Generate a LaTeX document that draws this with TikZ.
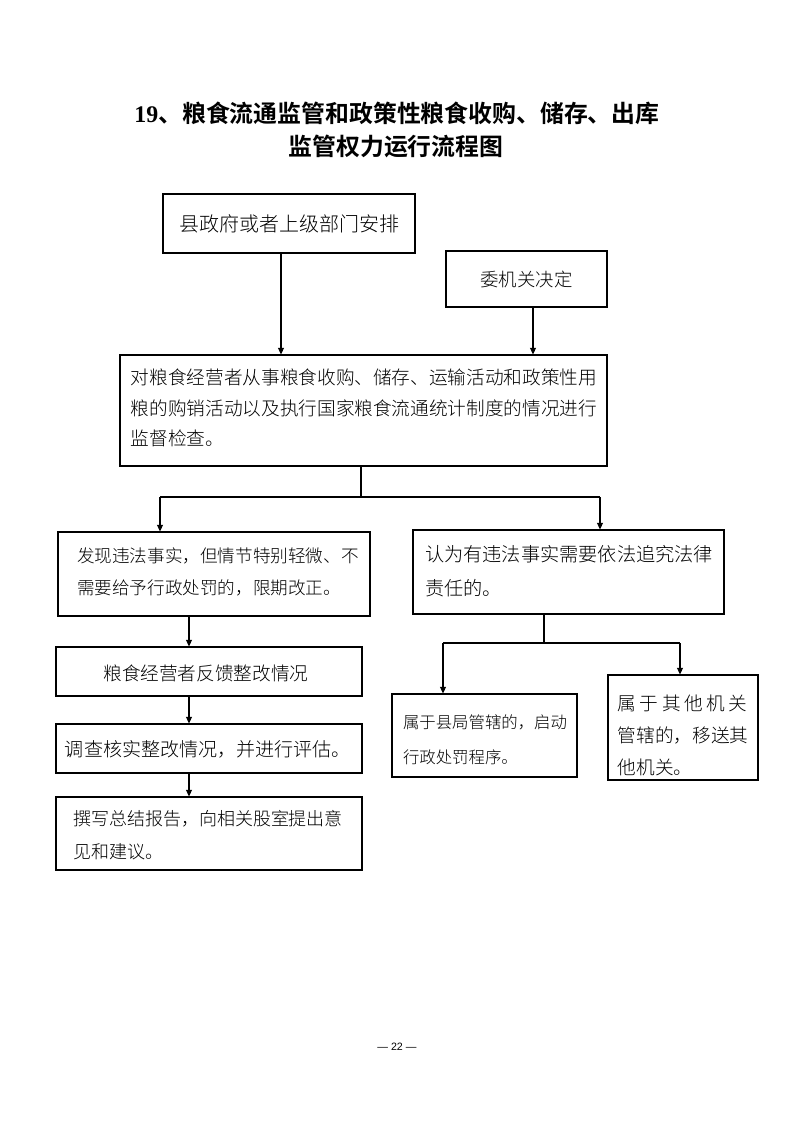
\documentclass[tikz,border=0pt]{standalone}
\usepackage{fontspec}
\setmainfont{Liberation Serif}
\newfontfamily\cjk{Noto Sans CJK SC}[UprightFont={* Light}, BoldFont={* Bold}]
\newfontfamily\numfont{Liberation Sans}
\usetikzlibrary{fit,arrows.meta}
\newcommand\fsz[2]{\fontsize{#1}{#2}\selectfont}
\tikzset{
  box/.style={draw, line width=0.8pt, inner sep=0pt},
  txt/.style={align=left, inner sep=0pt},
  ln/.style={line width=0.8pt},
  arr/.style={line width=0.8pt, -{Triangle[length=5pt,width=4.5pt]}},
}
\begin{document}
\begin{tikzpicture}[x=0.75pt,y=-0.75pt]
\useasboundingbox (0,0) rectangle (793,1122);
% title
\node[txt, font={\cjk\bfseries\fsz{17.9}{22}}] (t1) at (397,113) {{\rmfamily\bfseries 19}、粮食流通监管和政策性粮食收购、储存、出库};
\node[txt, font={\cjk\bfseries\fsz{17.9}{22}}] (t2) at (396,146) {监管权力运行流程图};
% boxes
\node[box, fit={(163,194) (415,253)}] (b1) {};
\node[txt, font={\cjk\fsz{15}{20}}] (b1t) at (b1) {县政府或者上级部门安排};
\node[box, fit={(446,251) (607,307)}] (b2) {};
\node[txt, font={\cjk\fsz{13.8}{20}}] (b2t) at (b2) {委机关决定};
\node[box, fit={(120,355) (607,466)}] (main) {};
\node[txt, font={\cjk\fsz{14}{23}}] (maint) at (364,408) {对粮食经营者从事粮食收购、储存、运输活动和政策性用\\粮的购销活动以及执行国家粮食流通统计制度的情况进行\\监督检查。};
\node[box, fit={(58,532) (370,616)}] (left1) {};
\node[txt, font={\cjk\fsz{13.2}{24.5}}] (left1t) at (218,572) {发现违法事实，但情节特别轻微、不\\需要给予行政处罚的，限期改正。};
\node[box, fit={(413,530) (724,614)}] (right1) {};
\node[txt, font={\cjk\fsz{14.4}{25}}] (right1t) at (569,571) {认为有违法事实需要依法追究法律\\责任的。};
\node[box, fit={(56,647) (362,696)}] (l2) {};
\node[txt, font={\cjk\fsz{14}{20}}] (l2t) at (206,673) {粮食经营者反馈整改情况};
\node[box, fit={(56,724) (362,773)}] (l3) {};
\node[txt, font={\cjk\fsz{14.3}{20}}] (l3t) at (208,749) {调查核实整改情况，并进行评估。};
\node[box, fit={(56,797) (362,870)}] (l4) {};
\node[txt, font={\cjk\fsz{13.5}{25}}] (l4t) at (208,835) {撰写总结报告，向相关股室提出意\\见和建议。};
\node[box, fit={(392,694) (577,777)}] (r2) {};
\node[txt, font={\cjk\fsz{12.3}{26}}] (r2t) at (485,740) {属于县局管辖的，启动\\行政处罚程序。};
\node[box, fit={(608,675) (758,780)}] (r3) {};
\node[txt, font={\cjk\fsz{14}{24}}] (r3t) at (683,735) {\hbox to 97.5pt{属\hfill 于\hfill 其\hfill 他\hfill 机\hfill 关}\\管辖的，移送其\\他机关。};
% page number
\node[txt, font={\numfont\fsz{8}{10}}] (pg) at (397,1047) {— 22 —};
% connectors
\coordinate (a1) at (281,0);
\coordinate (a2) at (533,0);
\draw[arr] (b1.south -| a1) -- (main.north -| a1);
\draw[arr] (b2.south -| a2) -- (main.north -| a2);
\coordinate (j1) at (361,497);
\coordinate (jl) at (160,497);
\coordinate (jr) at (600,497);
\draw[ln] (main.south -| j1) -- (j1);
\draw[ln] (jl) -- (jr);
\draw[arr] (jl) -- (left1.north -| jl);
\draw[arr] (jr) -- (right1.north -| jr);
\coordinate (cl) at (189,0);
\draw[arr] (left1.south -| cl) -- (l2.north -| cl);
\draw[arr] (l2.south -| cl) -- (l3.north -| cl);
\draw[arr] (l3.south -| cl) -- (l4.north -| cl);
\coordinate (j2) at (544,643);
\coordinate (j2l) at (443,643);
\coordinate (j2r) at (680,643);
\draw[ln] (right1.south -| j2) -- (j2);
\draw[ln] (j2l) -- (j2r);
\draw[arr] (j2l) -- (r2.north -| j2l);
\draw[arr] (j2r) -- (r3.north -| j2r);
\end{tikzpicture}
\end{document}
